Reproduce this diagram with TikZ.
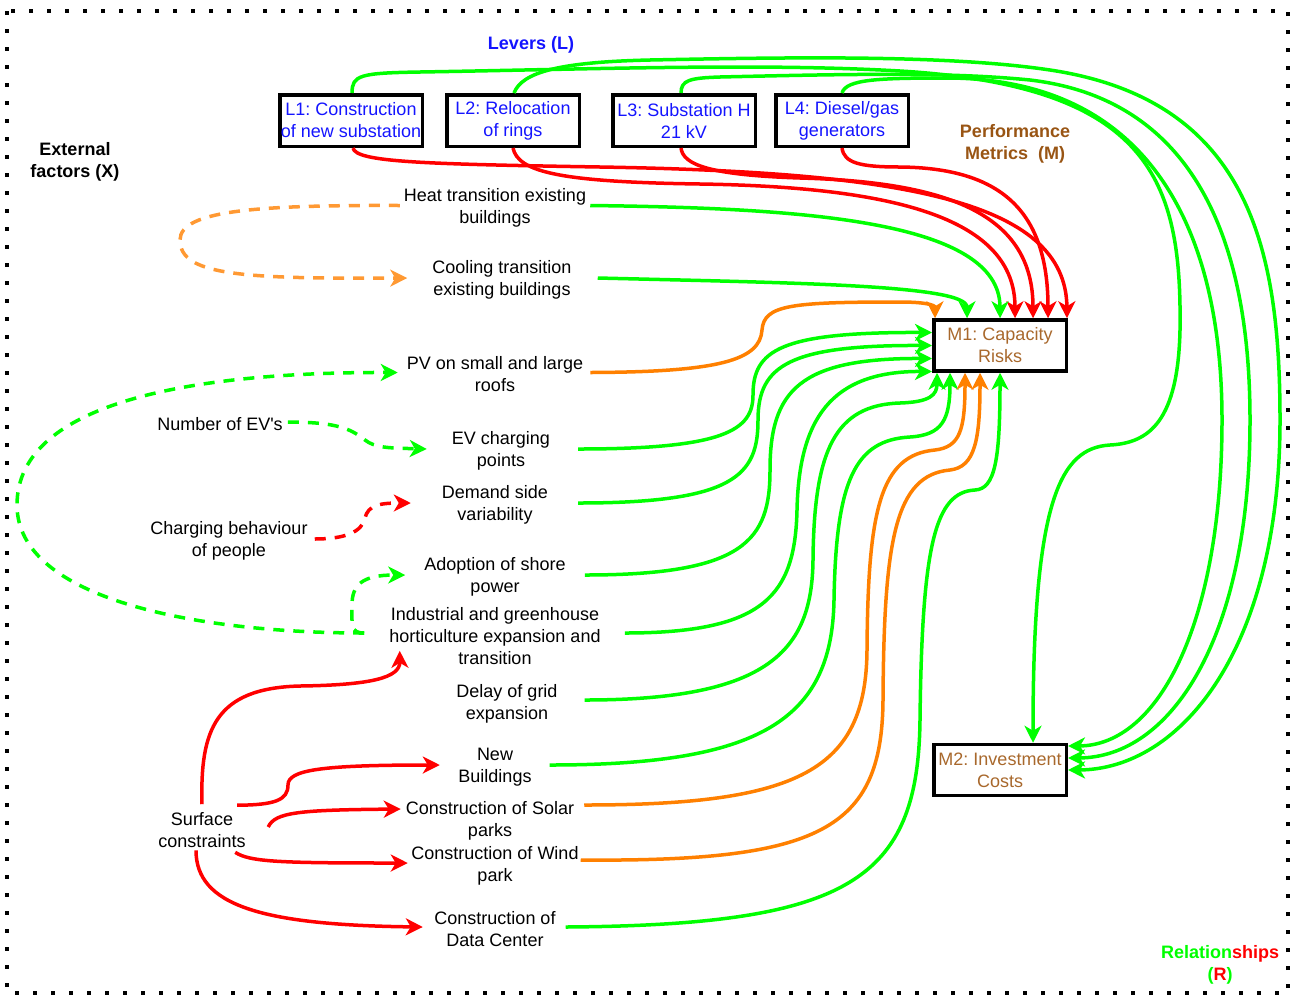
\documentclass[tikz,border=0pt]{standalone}
\usepackage{fontspec}
\setmainfont{Liberation Sans}
\usetikzlibrary{arrows.meta,calc}
\definecolor{lgreen}{RGB}{0,255,0}
\definecolor{lred}{RGB}{255,0,0}
\definecolor{lorange}{RGB}{255,128,0}
\definecolor{lorangelt}{RGB}{255,153,51}
\definecolor{leverblue}{RGB}{20,20,255}
\definecolor{metricbrown}{RGB}{168,104,44}
\definecolor{titlebrown}{RGB}{153,85,20}
\frenchspacing
\begin{document}
\begin{tikzpicture}[x=1pt, y=-1pt,
  txt/.style={align=center, inner sep=0pt, font=\fontsize{18}{22}\selectfont},
  free/.style={txt, yshift=-2pt},
  title/.style={align=center, inner sep=0pt, yshift=-2pt, font=\fontsize{18}{22}\selectfont\bfseries},
  lever/.style={txt, draw=black, line width=3.5pt, minimum height=51.5pt, text=leverblue},
  metric/.style={txt, draw=black, line width=3.5pt, minimum width=132.5pt, minimum height=51pt, text=metricbrown},
  rel/.style={line width=3.5pt, -{Stealth[length=17pt,width=17pt,inset=5pt]}},
  relg/.style={rel, draw=lgreen},
  relr/.style={rel, draw=lred},
  relo/.style={rel, draw=lorange},
  dashrel/.style={dash pattern=on 11pt off 9pt}
]
\useasboundingbox (0,0) rectangle (1292,994);

% dotted frame
\draw[line width=4pt, dash pattern=on 4pt off 14pt] (7,11) rectangle (1288,993);

% group titles
\node[title, text=leverblue] (levtitle) at (531,43) {Levers (L)};
\node[title] (exttitle) at (75,160) {External\\factors (X)};
\node[title, text=titlebrown] (perftitle) at (1015,142) {Performance\\Metrics\ \ (M)};
\node[title] (reltitle) at (1220,963) {\textcolor{lgreen}{Relation}\textcolor{lred}{ships}\\\textcolor{lgreen}{(}\textcolor{lred}{R}\textcolor{lgreen}{)}};

% levers
\node[lever, minimum width=142.5pt] (l1) at (351,120.5) {L1: Construction\\of new substation};
\node[lever, minimum width=132.5pt] (l2) at (513,120.5) {L2: Relocation\\of rings};
\node[lever, minimum width=142.5pt] (l3) at (684,120.5) {L3: Substation H\\21 kV};
\node[lever, minimum width=132.5pt] (l4) at (842,120.5) {L4: Diesel/gas\\generators};

% performance metrics
\node[metric] (m1) at (1000,345.5) {M1: Capacity\\Risks};
\node[metric] (m2) at (1000,770) {M2: Investment\\Costs};

% external factors
\node[free] (heat) at (495,205.5) {Heat transition existing\\buildings};
\node[free] (cool) at (502,278) {Cooling transition\\existing buildings};
\node[free] (pv) at (495,372.5) {PV on small and large\\roofs};
\node[free] (nev) at (220,422) {Number of EV\textquotesingle s};
\node[free] (evc) at (501,449) {EV charging\\points};
\node[free] (dsv) at (495,503) {Demand side\\variability};
\node[free] (cbp) at (229,539) {Charging behaviour\\of people};
\node[free] (shore) at (495,575) {Adoption of shore\\power};
\node[free] (ind) at (495,634) {Industrial and greenhouse\\horticulture expansion and\\transition};
\node[free] (delay) at (507,702) {Delay of grid\\expansion};
\node[free] (newb) at (495,765) {New\\Buildings};
\node[free] (surf) at (202,828) {Surface\\constraints};
\node[free] (solar) at (490,819) {Construction of Solar\\parks};
\node[free] (wind) at (495,864) {Construction of Wind\\park};
\node[free] (dc) at (495,927) {Construction of\\Data Center};

% dashed links between external factors
\draw[rel, draw=lorangelt, dashrel] ($(heat.west)+(-4,-2)$) .. controls (260,205) and (180,210) .. (180,240) .. controls (180,275) and (240,279) .. ($(cool.west)+(-25,-2)$);
\draw[relg, dashrel] ($(nev.east)+(5,-2)$) .. controls (340,422) and (352,430) .. (365,440) .. controls (375,448) and (390,448) .. ($(evc.west)+(-25,-2)$);
\draw[relr, dashrel] ($(cbp.east)+(7,-2)$) .. controls (345,539) and (362,532) .. (365,518) .. controls (368,505) and (380,503) .. ($(dsv.west)+(-31,-2)$);
\draw[relg, dashrel] ($(ind.west)+(-25,-3)$) .. controls (350,633) and (352,625) .. (352,605) .. controls (352,585) and (362,575) .. ($(shore.west)+(-19,-2)$);
\draw[relg, dashrel] ($(ind.west)+(-25,-3)$) .. controls (200,633) and (17,600) .. (17,505) .. controls (17,400) and (200,372) .. ($(pv.west)+(-9,-2)$);

% surface constraints
\draw[relr] ($(surf.north)+(0,-8)$) .. controls (200,730) and (215,688) .. (300,686) .. controls (370,685) and (400,678) .. ($(ind.south west)+(10.5,-14)$);
\draw[relr] ($(surf.north east)+(-8.5,-7)$) .. controls (275,805) and (288,800) .. (288,785) .. controls (288,770) and (320,765) .. ($(newb.west)+(-18.5,-2)$);
\draw[relr] ($(surf.east)+(22.5,-3)$) .. controls (275,812) and (300,810) .. ($(solar.west)+(-5,-12)$);
\draw[relr] ($(surf.south east)+(-10.5,4.5)$) .. controls (250,862) and (280,863) .. ($(wind.west)+(-3.5,-3)$);
\draw[relr] ($(surf.south)+(-6,2.5)$) .. controls (196,905) and (260,925) .. ($(dc.west)+(-11.5,-2)$);

% levers to capacity risks
\draw[relr] ($(l1.south)+(2,0)$) .. controls (356,162) and (420,164) .. (600,167) .. controls (900,172) and (1066,200) .. ($(m1.north east)+(-1,0)$);
\draw[relr] (l2.south) .. controls (518,172) and (560,182) .. (700,184) .. controls (900,187) and (1015,220) .. ($(m1.north west)+(83,0)$);
\draw[relr] ($(l3.south)+(-3,0)$) .. controls (683,165) and (710,175) .. (800,178) .. controls (950,182) and (1033,215) .. ($(m1.north west)+(101,0)$);
\draw[relr] (l4.south) .. controls (844,163) and (860,167) .. (900,167) .. controls (1000,168) and (1048,210) .. ($(m1.north west)+(116,0)$);

% levers to investment costs
\draw[relg] ($(l1.north)+(1,0)$) .. controls (352,75) and (360,73) .. (420,72) .. controls (600,69) and (760,63) .. (900,71) .. controls (1150,86) and (1182,180) .. (1180,330) .. controls (1178,420) and (1150,443) .. (1110,445) .. controls (1060,448) and (1033,500) .. ($(m2.north west)+(101,0)$);
\draw[relg] ($(l2.north)+(1,0)$) .. controls (522,72) and (560,62) .. (650,60) .. controls (800,57) and (950,55) .. (1050,70) .. controls (1250,100) and (1280,250) .. (1280,420) .. controls (1280,650) and (1180,769.5) .. (m2.east);
\draw[relg] ($(l3.north)+(-3,0)$) .. controls (681,80) and (690,78) .. (720,77) .. controls (850,74) and (950,72) .. (1030,80) .. controls (1200,100) and (1250,250) .. (1250,420) .. controls (1250,640) and (1170,757.5) .. ($(m2.east)+(0,-12)$);
\draw[relg] (l4.north) .. controls (846,79) and (880,78) .. (950,78) .. controls (1150,80) and (1222,230) .. (1222,420) .. controls (1222,620) and (1160,745.5) .. ($(m2.east)+(0,-24)$);

% external factors to capacity risks
\draw[relo] ($(pv.east)+(7,-2)$) .. controls (720,372) and (760,360) .. (762,330) .. controls (764,305) and (790,302) .. (900,302) .. controls (925,302) and (935,305) .. ($(m1.north west)+(3,0)$);
\draw[relg] ($(cool.east)+(26,-2)$) .. controls (800,283) and (967,285) .. ($(m1.north west)+(35,0)$);
\draw[relg] ($(heat.east)+(4,-2)$) .. controls (800,208) and (1000,220) .. ($(m1.north west)+(68,0)$);
\draw[relg] ($(evc.east)+(28,-2)$) .. controls (725,449) and (753,430) .. (753,395) .. controls (753,350) and (780,332) .. ($(m1.west)+(0,-13)$);
\draw[relg] ($(dsv.east)+(30,-2)$) .. controls (735,503) and (758,475) .. (758,420) .. controls (758,365) and (790,345) .. (m1.west);
\draw[relg] ($(shore.east)+(19,-2)$) .. controls (745,575) and (770,540) .. (770,470) .. controls (770,390) and (800,358) .. ($(m1.west)+(0,13)$);
\draw[relg] ($(ind.east)+(24,-3)$) .. controls (765,633) and (795,595) .. (797,510) .. controls (799,420) and (830,371) .. ($(m1.west)+(0,26)$);
\draw[relg] ($(delay.east)+(27,-4)$) .. controls (770,700) and (812,650) .. (813,560) .. controls (814,450) and (835,405) .. (900,403) .. controls (930,402) and (937,395) .. ($(m1.south west)+(5,0)$);
\draw[relg] ($(newb.east)+(18,-2)$) .. controls (760,765) and (832,720) .. (834,600) .. controls (836,480) and (855,440) .. (910,437) .. controls (942,435) and (950,420) .. ($(m1.south west)+(18,0)$);
\draw[relo] ($(solar.east)+(10,-16)$) .. controls (800,805) and (866,770) .. (867,650) .. controls (868,510) and (880,455) .. (935,450) .. controls (960,447) and (965,430) .. ($(m1.south west)+(33,0)$);
\draw[relo] ($(wind.east)+(2,-6)$) .. controls (820,862) and (882,830) .. (883,700) .. controls (884,540) and (895,475) .. (950,470) .. controls (975,467) and (980,440) .. ($(m1.south west)+(48,0)$);
\draw[relg] ($(dc.east)+(10,-2)$) .. controls (850,925) and (918,880) .. (920,720) .. controls (922,545) and (935,492) .. (975,490) .. controls (995,489) and (1000,460) .. ($(m1.south west)+(68,0)$);
\end{tikzpicture}
\end{document}
